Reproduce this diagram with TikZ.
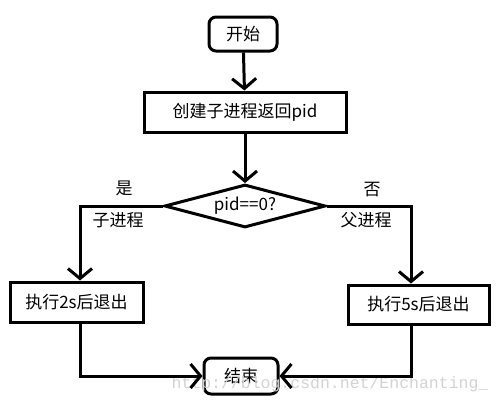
\documentclass[tikz,border=0pt]{standalone}
\usepackage{fontspec}
\usepackage{tikz}
\usetikzlibrary{arrows.meta,shapes.geometric}
\newfontfamily\cjk{Noto Sans CJK SC}
\newfontfamily\wmfont{Liberation Mono}

\begin{document}
\begin{tikzpicture}[x = 1pt, y = -1pt]
		\tikzset{> = {Straight Barb[length = 10pt, width = 24pt]}}
		\tikzset{flow/.style = {line width = 3pt, ->},
			box/.style = {draw, line width = 3pt, font = \cjk\fontsize{17}{19}\selectfont, inner sep = 0pt},
			rbox/.style = {box, rounded corners = 7pt},
			cond/.style = {box, diamond, aspect = 3.7},
			lbl/.style = {font = \cjk\fontsize{17}{19}\selectfont, inner sep = 0pt}}
		\useasboundingbox (0,0) rectangle (501,407);
		\node[rbox, minimum width = 68pt, minimum height = 34pt] (start) at (243,34){开始};
		\node[box, minimum width = 202pt, minimum height = 40pt] (fork) at (245,112){创建子进程返回pid};
		\node[cond, minimum width = 161pt, minimum height = 43pt] (test) at (245,206){pid==0?};
		\node[box, minimum width = 133pt, minimum height = 40pt] (child) at (76.5,302){执行2s后退出};
		\node[box, minimum width = 141pt, minimum height = 39pt] (parent) at (418.5,304.5){执行5s后退出};
		\node[rbox, minimum width = 74pt, minimum height = 36pt] (end) at (241,376){结束};
		\node[lbl] (yes) at (124,188){是};
		\node[lbl] (yesl) at (118,220){子进程};
		\node[lbl] (no) at (372,190){否};
		\node[lbl] (nol) at (366,220){父进程};
		\node[font = \wmfont\fontsize{16.5}{18}\selectfont, gray!35, inner sep = 0pt] (mark) at (330,384){http://blog.csdn.net/Enchanting\_};
		\draw[flow] (start) -- (fork);
		\draw[flow] (fork.south -| test.north) -- (test.north);
		\draw[flow] (test.west) -| ([xshift = 3.5pt]child.north);
		\draw[flow] (test.east) -| ([xshift = -7.5pt]parent.north);
		\draw[flow] ([xshift = 3.5pt]child.south) |- (end.west);
		\draw[flow] ([xshift = -7.5pt]parent.south) |- (end.east);
	\end{tikzpicture}
\end{document}
